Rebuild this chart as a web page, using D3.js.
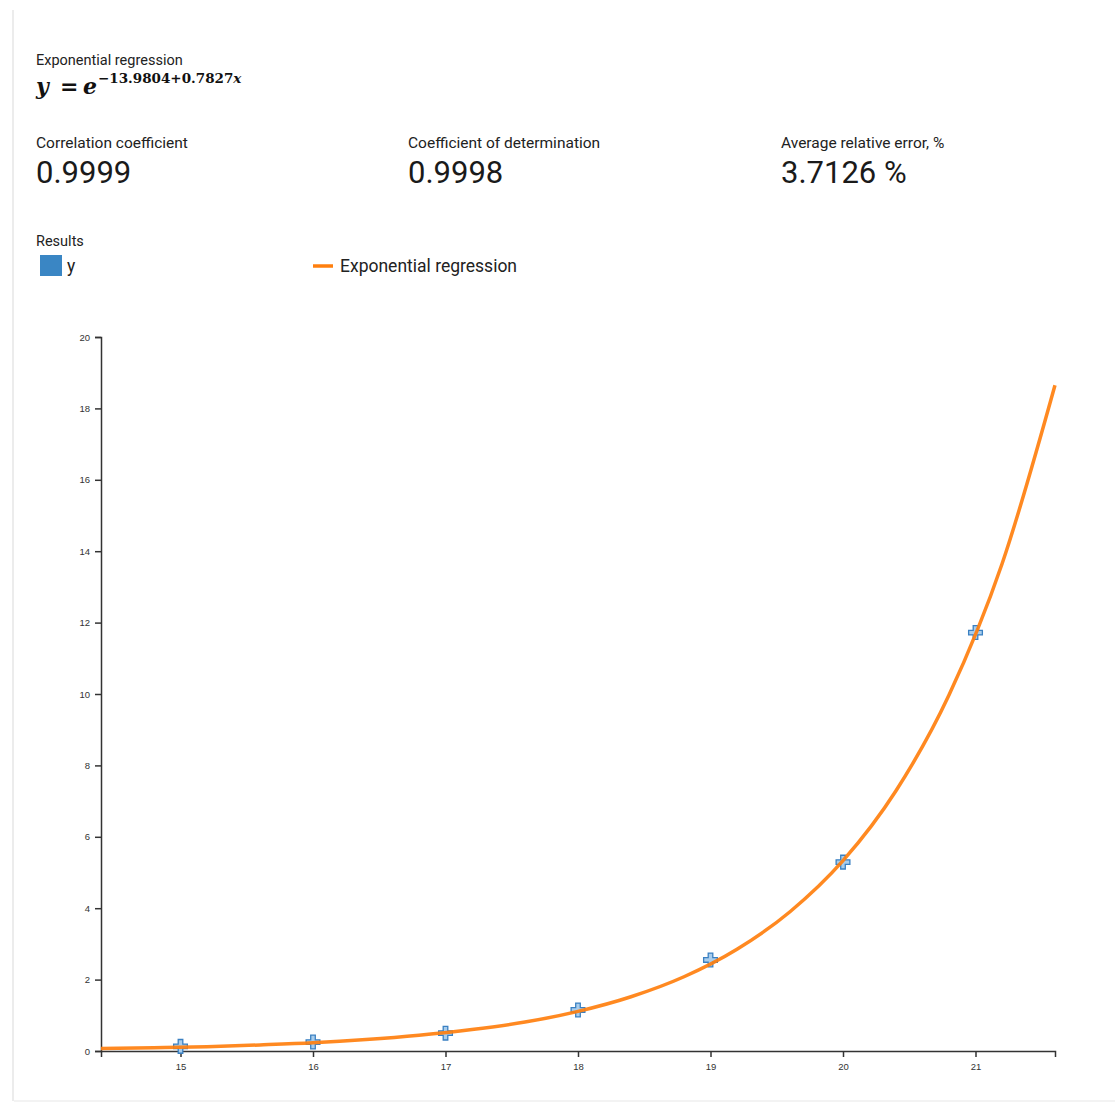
<!DOCTYPE html>
<html>
<head>
<meta charset="utf-8">
<script src="https://cdn.jsdelivr.net/npm/d3@7"></script>
<style>
  body { margin: 0; background: #fff; }
  .axis text { font-family: "Liberation Sans", Arial, sans-serif; font-size: 9.5px; fill: #333; }
  .axis path, .axis line { stroke: #333; stroke-width: 1.5; }
</style>
</head>
<body>
<div id="chart"></div>
<script>
// observed points
var xValues = [15, 16, 17, 18, 19, 20, 21];
var yValues = [0.13, 0.25, 0.5, 1.15, 2.55, 5.29, 11.72];

// regression curve
var curveX = [14.4, 14.8, 15.2, 15.6, 16.0, 16.4, 16.8, 17.2, 17.6, 18.0, 18.4, 18.8, 19.2, 19.6, 20.0, 20.4, 20.8, 21.2, 21.6];
var curveY = [0.07, 0.09, 0.12, 0.17, 0.23, 0.32, 0.44, 0.60, 0.81, 1.11, 1.52, 2.08, 2.85, 3.90, 5.33, 7.29, 9.97, 13.64, 18.65];

var xTicks = [15, 16, 17, 18, 19, 20, 21];
var yTicks = [0, 2, 4, 6, 8, 10, 12, 14, 16, 18, 20];

var metricLabels = ["Correlation coefficient", "Coefficient of determination", "Average relative error, %"];
var metricValues = ["0.9999", "0.9998", "3.7126 %"];

var width = 1115, height = 1106;
var margin = {top: 337, left: 101, right: 60, bottom: 55};

var svg = d3.select("#chart").append("svg")
    .attr("width", width)
    .attr("height", height);

// card borders
svg.append("line")
    .attr("x1", 13).attr("x2", 13).attr("y1", 10).attr("y2", 1101)
    .attr("stroke", "#ececec").attr("stroke-width", 2);
svg.append("line")
    .attr("x1", 14).attr("x2", width).attr("y1", 1101).attr("y2", 1101)
    .attr("stroke", "#f3f3f3").attr("stroke-width", 2);

// header
svg.append("text")
    .attr("x", 36).attr("y", 65)
    .style("font-family", "Roboto")
    .style("font-size", "14.5px")
    .attr("fill", "#222")
    .text("Exponential regression");

var formula = svg.append("g")
    .style("font-family", "'DejaVu Serif', 'Liberation Serif', serif")
    .style("font-weight", "bold")
    .attr("fill", "#111");
formula.append("text").attr("x", 36).attr("y", 94).style("font-style", "italic").style("font-size", "22px").text("y");
formula.append("text").attr("x", 60).attr("y", 94).style("font-size", "22px").text("=");
formula.append("text").attr("x", 83).attr("y", 94).style("font-style", "italic").style("font-size", "22px").text("e");
var expo = formula.append("text").attr("x", 98).attr("y", 83).style("font-size", "13.5px");
expo.append("tspan").text("\u221213.9804+0.7827");
expo.append("tspan").style("font-style", "italic").text("x");

var metricX = [36, 408, 781];
metricLabels.forEach(function(d, i) {
    svg.append("text")
        .attr("x", metricX[i]).attr("y", 148)
        .style("font-family", "Roboto")
        .style("font-size", "15.5px")
        .attr("fill", "#222")
        .text(d);
    svg.append("text")
        .attr("x", metricX[i]).attr("y", 183)
        .style("font-family", "Roboto")
        .style("font-size", "31px")
        .attr("fill", "#1a1a1a")
        .text(metricValues[i]);
});

// legend
svg.append("text")
    .attr("x", 36).attr("y", 246)
    .style("font-family", "Roboto")
    .style("font-size", "14.5px")
    .attr("fill", "#222")
    .text("Results");
svg.append("rect")
    .attr("x", 40).attr("y", 255).attr("width", 22).attr("height", 21)
    .attr("fill", "#3a86c4");
svg.append("text")
    .attr("x", 67).attr("y", 272)
    .style("font-family", "Roboto")
    .style("font-size", "17.5px")
    .attr("fill", "#222")
    .text("y");
svg.append("line")
    .attr("x1", 313).attr("x2", 333).attr("y1", 266).attr("y2", 266)
    .attr("stroke", "#ff7f0e").attr("stroke-width", 3.5);
svg.append("text")
    .attr("x", 340).attr("y", 272)
    .style("font-family", "Roboto")
    .style("font-size", "17.5px")
    .attr("fill", "#222")
    .text("Exponential regression");

// plot
var x = d3.scaleLinear()
    .domain([14.4, 21.6])
    .range([margin.left, width - margin.right]);
var y = d3.scaleLinear()
    .domain([0, 20])
    .range([height - margin.bottom, margin.top]);

svg.append("g")
    .attr("class", "axis")
    .attr("transform", "translate(0," + y(0) + ")")
    .call(d3.axisBottom(x).tickValues(xTicks).tickSize(6).tickPadding(6).tickFormat(d3.format("d")));

svg.append("g")
    .attr("class", "axis")
    .attr("transform", "translate(" + x(14.4) + ",0)")
    .call(d3.axisLeft(y).tickValues(yTicks).tickSize(6).tickPadding(5).tickFormat(d3.format("d")));

var pts = xValues.map(function(d, i) { return {x: d, y: yValues[i]}; });
svg.append("g").selectAll("path")
    .data(pts)
    .enter()
    .append("path")
    .attr("transform", function(d) { return "translate(" + x(d.x) + "," + y(d.y) + ")"; })
    .attr("d", d3.symbol().type(d3.symbolCross).size(105))
    .attr("fill", "#a9cdec")
    .attr("stroke", "#3a80c2")
    .attr("stroke-width", 1.3);

var line = d3.line()
    .x(function(d) { return x(d[0]); })
    .y(function(d) { return y(d[1]); })
    .curve(d3.curveMonotoneX);

svg.append("path")
    .datum(curveX.map(function(d, i) { return [d, curveY[i]]; }))
    .attr("d", line)
    .attr("fill", "none")
    .attr("stroke", "#ff7f0e")
    .attr("stroke-opacity", 0.92)
    .attr("stroke-width", 3.5);
</script>
</body>
</html>
